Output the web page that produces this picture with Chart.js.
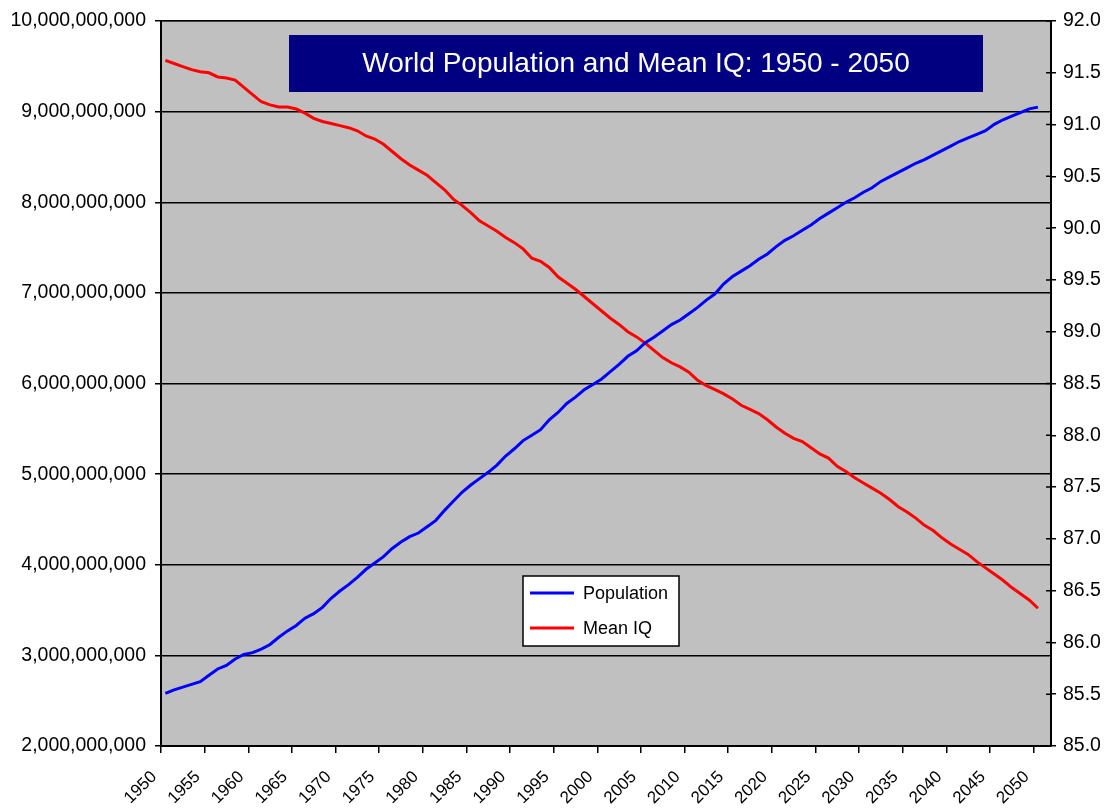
<!DOCTYPE html>
<html>
<head>
<meta charset="utf-8">
<title>World Population and Mean IQ: 1950 - 2050</title>
<script src="https://cdn.jsdelivr.net/npm/chart.js@4"></script>
<style>
  body { margin: 0; background: #fff; }
</style>
</head>
<body>
<canvas id="chartCanvas" width="1109" height="810"></canvas>
<script>
// data
const years = [
    1950, 1951, 1952, 1953, 1954, 1955, 1956, 1957, 1958, 1959,
    1960, 1961, 1962, 1963, 1964, 1965, 1966, 1967, 1968, 1969,
    1970, 1971, 1972, 1973, 1974, 1975, 1976, 1977, 1978, 1979,
    1980, 1981, 1982, 1983, 1984, 1985, 1986, 1987, 1988, 1989,
    1990, 1991, 1992, 1993, 1994, 1995, 1996, 1997, 1998, 1999,
    2000, 2001, 2002, 2003, 2004, 2005, 2006, 2007, 2008, 2009,
    2010, 2011, 2012, 2013, 2014, 2015, 2016, 2017, 2018, 2019,
    2020, 2021, 2022, 2023, 2024, 2025, 2026, 2027, 2028, 2029,
    2030, 2031, 2032, 2033, 2034, 2035, 2036, 2037, 2038, 2039,
    2040, 2041, 2042, 2043, 2044, 2045, 2046, 2047, 2048, 2049,
    2050
];

// population in billions
const populationBn = [
    2.58, 2.62, 2.65, 2.68, 2.71, 2.78, 2.85, 2.89, 2.96, 3.01,
    3.03, 3.07, 3.12, 3.20, 3.27, 3.33, 3.41, 3.46, 3.53, 3.63,
    3.71, 3.78, 3.86, 3.95, 4.02, 4.09, 4.18, 4.25, 4.31, 4.35,
    4.42, 4.49, 4.60, 4.70, 4.80, 4.88, 4.95, 5.02, 5.10, 5.20,
    5.28, 5.37, 5.43, 5.49, 5.60, 5.68, 5.78, 5.85, 5.93, 5.99,
    6.05, 6.13, 6.21, 6.30, 6.36, 6.45, 6.51, 6.58, 6.65, 6.70,
    6.77, 6.84, 6.92, 6.99, 7.10, 7.18, 7.24, 7.30, 7.37, 7.43,
    7.51, 7.58, 7.63, 7.69, 7.75, 7.82, 7.88, 7.94, 8.00, 8.05,
    8.11, 8.16, 8.23, 8.28, 8.33, 8.38, 8.43, 8.47, 8.52, 8.57,
    8.62, 8.67, 8.71, 8.75, 8.79, 8.86, 8.91, 8.95, 8.99, 9.03,
    9.05
];

const meanIQ = [
    91.62, 91.59, 91.56, 91.53, 91.51, 91.50, 91.46, 91.45, 91.43, 91.36,
    91.29, 91.22, 91.19, 91.17, 91.17, 91.15, 91.11, 91.06, 91.03, 91.01,
    90.99, 90.97, 90.94, 90.89, 90.86, 90.81, 90.74, 90.67, 90.61, 90.56,
    90.51, 90.44, 90.37, 90.28, 90.22, 90.15, 90.07, 90.02, 89.97, 89.91,
    89.86, 89.80, 89.71, 89.68, 89.62, 89.53, 89.47, 89.41, 89.34, 89.27,
    89.20, 89.13, 89.07, 89.00, 88.95, 88.89, 88.82, 88.75, 88.70, 88.66,
    88.61, 88.53, 88.48, 88.44, 88.40, 88.35, 88.29, 88.25, 88.21, 88.15,
    88.08, 88.02, 87.97, 87.94, 87.88, 87.82, 87.78, 87.70, 87.65, 87.59,
    87.54, 87.49, 87.44, 87.38, 87.31, 87.26, 87.20, 87.13, 87.08, 87.01,
    86.95, 86.90, 86.85, 86.78, 86.72, 86.66, 86.60, 86.53, 86.47, 86.41,
    86.33
];

// axis tick labels
const yearTicks = [1950, 1955, 1960, 1965, 1970, 1975, 1980, 1985, 1990, 1995, 2000,
    2005, 2010, 2015, 2020, 2025, 2030, 2035, 2040, 2045, 2050];
const popTicks = [2e9, 3e9, 4e9, 5e9, 6e9, 7e9, 8e9, 9e9, 10e9];
const iqTicks = [85, 85.5, 86, 86.5, 87, 87.5, 88, 88.5, 89, 89.5, 90, 90.5, 91, 91.5, 92];

const chartTitle = 'World Population and Mean IQ: 1950 - 2050';

Chart.defaults.font.family = '"Liberation Sans", Arial, sans-serif';
Chart.defaults.color = '#000';

// grey plot area with a thin border
const plotArea = {
    id: 'plotArea',
    beforeDraw(chart) {
        const { ctx, chartArea: a } = chart;
        ctx.save();
        ctx.fillStyle = '#c0c0c0';
        ctx.fillRect(a.left, a.top, a.width, a.height);
        ctx.strokeStyle = '#808080';
        ctx.lineWidth = 1;
        ctx.strokeRect(a.left + 0.5, a.top + 0.5, a.width - 1, a.height - 1);
        ctx.restore();
    },
    // right axis ticks also poke a little into the plot
    beforeDatasetsDraw(chart) {
        const { ctx, chartArea: a } = chart;
        const s = chart.scales.y1;
        ctx.save();
        ctx.strokeStyle = '#000';
        ctx.lineWidth = 1.5;
        ctx.beginPath();
        s.ticks.forEach(t => {
            const y = s.getPixelForValue(t.value);
            ctx.moveTo(a.right - 5, y);
            ctx.lineTo(a.right, y);
        });
        ctx.stroke();
        ctx.restore();
    }
};

// navy title box and white legend box inside the plot area
const boxes = {
    id: 'boxes',
    afterDraw(chart) {
        const { ctx, chartArea: a } = chart;
        ctx.save();

        // title
        const tx = a.left + 128, ty = a.top + 14, tw = 694, th = 57;
        ctx.fillStyle = '#000080';
        ctx.fillRect(tx, ty, tw, th);
        ctx.fillStyle = '#fff';
        ctx.font = '28px "Liberation Sans", Arial, sans-serif';
        ctx.textAlign = 'center';
        ctx.textBaseline = 'middle';
        ctx.fillText(chartTitle, tx + tw / 2, ty + th / 2 + 1);

        // legend
        const lx = a.left + 362, ly = a.top + 555, lw = 156, lh = 70;
        ctx.fillStyle = '#fff';
        ctx.fillRect(lx, ly, lw, lh);
        ctx.strokeStyle = '#000';
        ctx.lineWidth = 1.5;
        ctx.strokeRect(lx, ly, lw, lh);
        ctx.font = '18px "Liberation Sans", Arial, sans-serif';
        ctx.textAlign = 'left';
        chart.data.datasets.forEach((ds, i) => {
            const y = ly + 17 + i * 35;
            ctx.strokeStyle = ds.borderColor;
            ctx.lineWidth = 3;
            ctx.beginPath();
            ctx.moveTo(lx + 7, y);
            ctx.lineTo(lx + 51, y);
            ctx.stroke();
            ctx.fillStyle = '#000';
            ctx.fillText(ds.label, lx + 60, y + 1);
        });
        ctx.restore();
    }
};

const ctx = document.getElementById('chartCanvas');

new Chart(ctx, {
    type: 'line',
    data: {
        datasets: [{
            label: 'Population',
            data: years.map((y, i) => ({ x: y, y: populationBn[i] * 1e9 })),
            borderColor: '#0000ff',
            borderWidth: 3,
            pointRadius: 0,
            yAxisID: 'y'
        }, {
            label: 'Mean IQ',
            data: years.map((y, i) => ({ x: y, y: meanIQ[i] })),
            borderColor: '#ff0000',
            borderWidth: 3,
            pointRadius: 0,
            yAxisID: 'y1'
        }]
    },
    options: {
        responsive: false,
        animation: false,
        devicePixelRatio: 1,
        layout: { padding: { top: 21, left: 0, right: 0, bottom: 0 } },
        plugins: {
            legend: { display: false },
            title: { display: false },
            tooltip: { enabled: false }
        },
        scales: {
            x: {
                type: 'linear',
                position: 'bottom',
                min: 1949.5,
                max: 2051.5,
                afterBuildTicks: (s) => { s.ticks = yearTicks.map(v => ({ value: v - 0.5 })); },
                afterFit: (s) => { s.height = 64; },
                ticks: {
                    autoSkip: false,
                    minRotation: 45,
                    maxRotation: 45,
                    padding: 14,
                    labelOffset: -7,
                    font: { size: 17 },
                    callback: (v) => String(v + 0.5)
                },
                grid: { drawOnChartArea: false, drawTicks: true, tickLength: 7, color: '#000', lineWidth: 1.5 },
                border: { color: '#000', width: 2 }
            },
            y: {
                type: 'linear',
                position: 'left',
                min: 2e9,
                max: 10e9,
                afterBuildTicks: (s) => { s.ticks = popTicks.map(v => ({ value: v })); },
                afterFit: (s) => { s.width = 161; },
                ticks: {
                    padding: 9,
                    font: { size: 19.5 },
                    callback: (v) => v.toLocaleString('en-US')
                },
                grid: { color: '#000', lineWidth: 1.5, tickLength: 6 },
                border: { color: '#000', width: 2 }
            },
            y1: {
                type: 'linear',
                position: 'right',
                min: 85,
                max: 92,
                afterBuildTicks: (s) => { s.ticks = iqTicks.map(v => ({ value: v })); },
                afterFit: (s) => { s.width = 58; },
                ticks: {
                    padding: 7,
                    font: { size: 19.5 },
                    callback: (v) => v.toFixed(1)
                },
                grid: { drawOnChartArea: false, color: '#000', lineWidth: 1.5, tickLength: 5 },
                border: { color: '#000', width: 2 }
            }
        }
    },
    plugins: [plotArea, boxes]
});
</script>
</body>
</html>
